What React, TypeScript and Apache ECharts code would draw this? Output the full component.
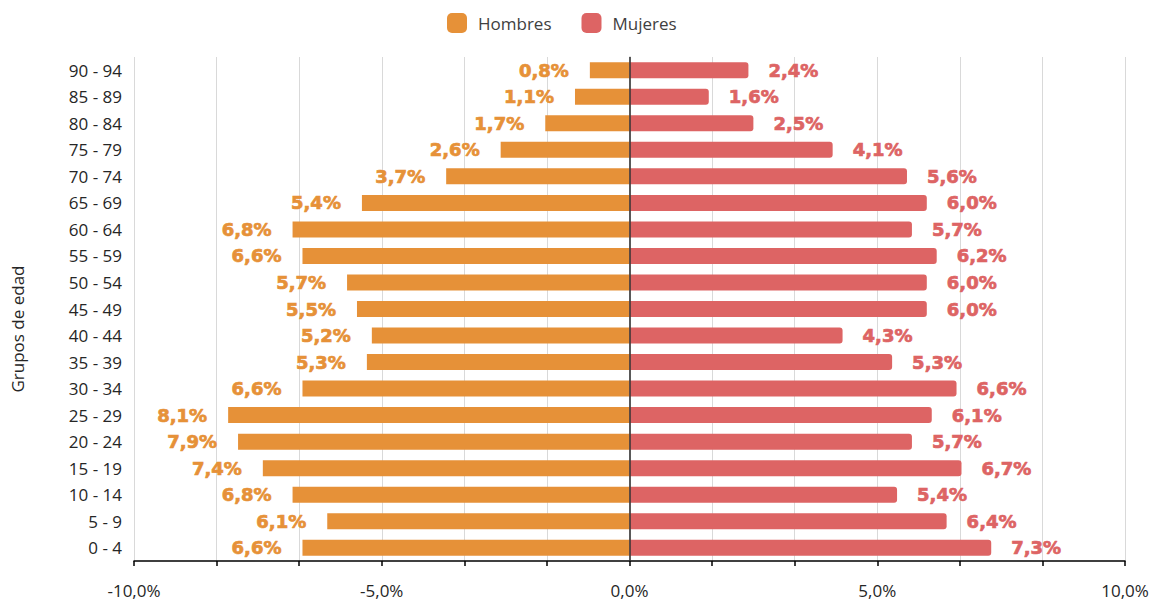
import React, { useEffect, useRef } from "react";
import * as echarts from "echarts";

const categories = [
  "0 - 4", "5 - 9", "10 - 14", "15 - 19", "20 - 24", "25 - 29", "30 - 34",
  "35 - 39", "40 - 44", "45 - 49", "50 - 54", "55 - 59", "60 - 64", "65 - 69",
  "70 - 74", "75 - 79", "80 - 84", "85 - 89", "90 - 94",
];
const hombres = [6.6, 6.1, 6.8, 7.4, 7.9, 8.1, 6.6, 5.3, 5.2, 5.5, 5.7, 6.6, 6.8, 5.4, 3.7, 2.6, 1.7, 1.1, 0.8];
const mujeres = [7.3, 6.4, 5.4, 6.7, 5.7, 6.1, 6.6, 5.3, 4.3, 6.0, 6.0, 6.2, 5.7, 6.0, 5.6, 4.1, 2.5, 1.6, 2.4];
const axisMin = -10;
const axisMax = 10;
const axisStep = 10 / 6;
const labeledTicks = [-10, -5, 0, 5, 10];

const ORANGE = "#E69138";
const RED = "#DD6464";

const fmt = (v: number) => Math.abs(v).toFixed(1).replace(".", ",") + "%";

export default function App() {
  const ref = useRef<HTMLDivElement>(null);
  useEffect(() => {
    if (!ref.current) return;
    const chart = echarts.init(ref.current, null, { renderer: "svg" });
    const barLabel = {
      show: true,
      fontFamily: "DejaVu Sans",
      fontWeight: "bold",
      fontSize: 18,
      textBorderWidth: 0.7,
      formatter: (p: any) => fmt(p.value),
    };
    chart.setOption({
      animation: false,
      backgroundColor: "#ffffff",
      legend: {
        left: 442,
        top: 8,
        itemWidth: 20,
        itemHeight: 20,
        itemGap: 30,
        icon: "roundRect",
        textStyle: { fontFamily: "Open Sans", fontSize: 17, color: "#404040", padding: [0, 0, 0, 6] },
        data: ["Hombres", "Mujeres"],
      },
      grid: { left: 134, right: 34, top: 57, bottom: 45, containLabel: false },
      graphic: [
        {
          type: "text",
          x: 17,
          y: 329,
          rotation: Math.PI / 2,
          style: {
            text: "Grupos de edad",
            fontFamily: "Open Sans",
            fontSize: 17,
            fill: "#262626",
            align: "center",
            verticalAlign: "middle",
          },
        },
      ],
      xAxis: {
        type: "value",
        min: axisMin,
        max: axisMax,
        interval: axisStep,
        axisLine: { show: true, onZero: false, lineStyle: { color: "#000000", width: 1.5 } },
        axisTick: { show: true, length: 5, lineStyle: { color: "#000000", width: 1.5 } },
        splitLine: { show: true, lineStyle: { color: "#D9D9D9", width: 1 } },
        axisLabel: {
          margin: 21,
          fontFamily: "Open Sans",
          fontSize: 17,
          color: "#262626",
          showMinLabel: true,
          showMaxLabel: true,
          formatter: (v: number) => {
            const hit = labeledTicks.find((t) => Math.abs(t - v) < 1e-6);
            if (hit === undefined) return "";
            return hit.toFixed(1).replace(".", ",") + "%";
          },
        },
      },
      yAxis: {
        type: "category",
        data: categories,
        axisLine: { show: true, lineStyle: { color: "#BFBFBF", width: 1.5 } },
        axisTick: { show: false },
        axisLabel: { fontFamily: "Open Sans", fontSize: 17, color: "#262626", margin: 12 },
      },
      series: [
        {
          name: "Hombres",
          type: "bar",
          data: hombres.map((v) => -v),
          barWidth: 16,
          barGap: "-100%",
          itemStyle: { color: ORANGE },
          label: { ...barLabel, position: "left", distance: 21, color: ORANGE, textBorderColor: ORANGE },
          markLine: {
            silent: true,
            symbol: "none",
            label: { show: false },
            lineStyle: { color: "#333333", width: 1.5, type: "solid" },
            data: [{ xAxis: 0 }],
          },
          z: 3,
        },
        {
          name: "Mujeres",
          type: "bar",
          data: mujeres,
          barWidth: 16,
          barGap: "-100%",
          itemStyle: { color: RED, borderRadius: [0, 3, 3, 0] },
          label: { ...barLabel, position: "right", distance: 20, color: RED, textBorderColor: RED },
          z: 3,
        },
      ],
    });
    return () => chart.dispose();
  }, []);
  return (
    <div
      ref={ref}
      style={{ position: "absolute", left: 0, top: 0, width: 1159, height: 606 }}
    />
  );
}
